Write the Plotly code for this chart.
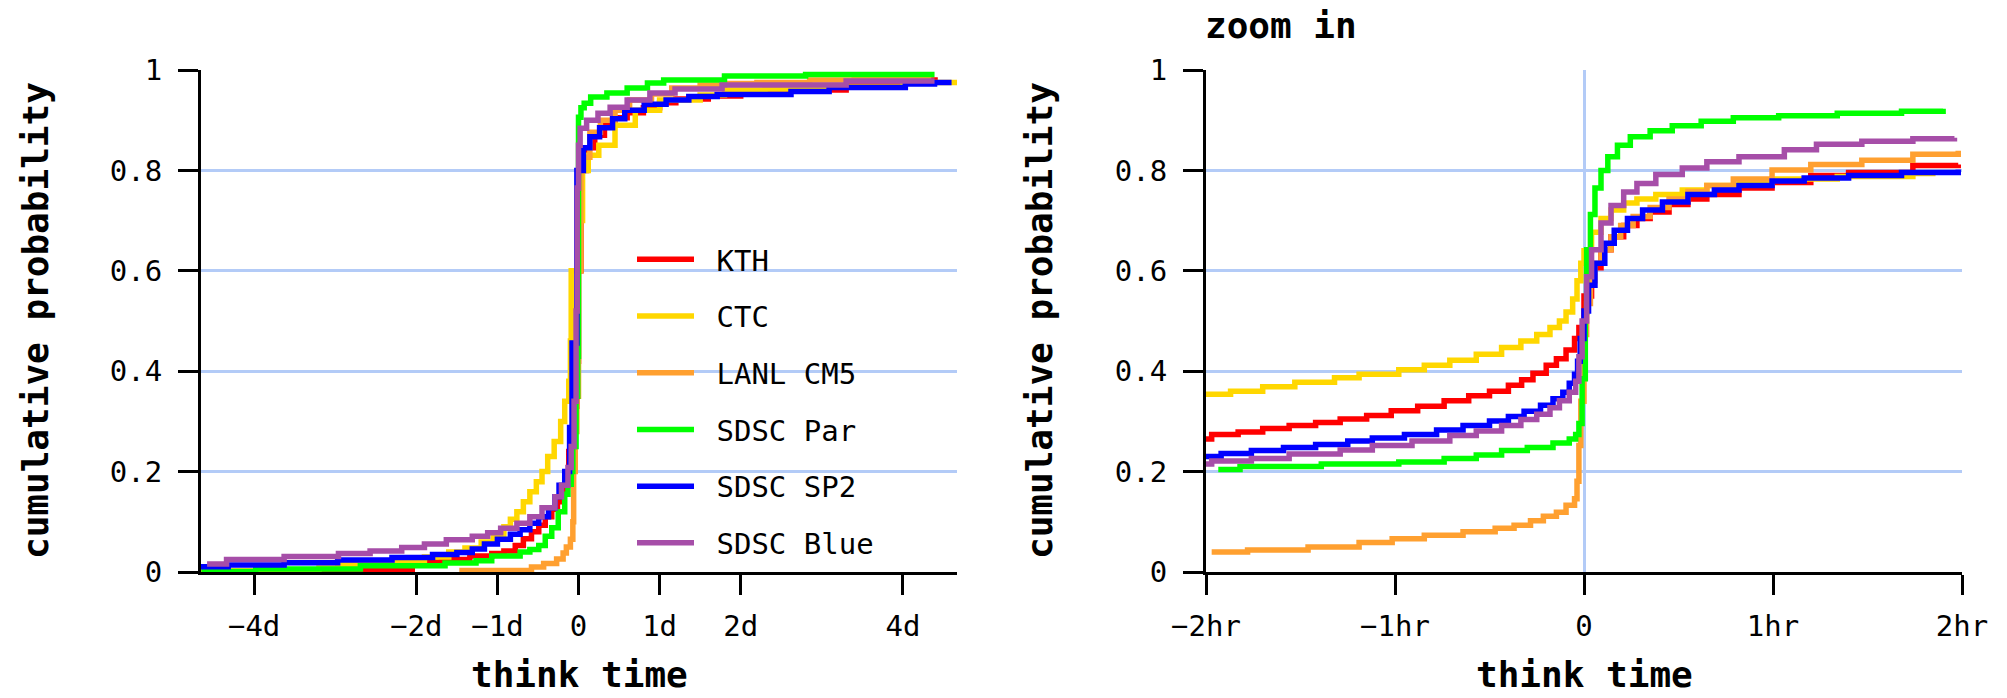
import plotly.graph_objects as go

W, H = 2007, 698

names = ["KTH", "CTC", "LANL CM5", "SDSC Par", "SDSC SP2", "SDSC Blue"]
colors = ["#FF0000", "#FFD700", "#FFA030", "#00FF00", "#0000FF", "#A64EA8"]

# ---- left panel: think time in days ----
kth_d_x = [-4.65, -2.65, -2.05, -1.69, -1.34, -1.07, -0.92, -0.78, -0.68, -0.58, -0.49, -0.41, -0.33, -0.26, -0.2, -0.16, -0.12, -0.09, -0.05, -0.02, 0.0, 0.03, 0.1, 0.2, 0.32, 0.45, 0.6, 0.8, 1.0, 1.2, 1.6, 2.0, 2.6, 3.3, 4.0, 4.43]
kth_d_p = [0.001, 0.003, 0.02, 0.025, 0.032, 0.037, 0.042, 0.053, 0.066, 0.08, 0.093, 0.11, 0.125, 0.14, 0.16, 0.19, 0.24, 0.28, 0.33, 0.42, 0.6, 0.8, 0.845, 0.87, 0.89, 0.905, 0.915, 0.925, 0.935, 0.942, 0.948, 0.952, 0.96, 0.968, 0.98, 0.98]

ctc_d_x = [-4.65, -3.2, -2.97, -2.26, -1.9, -1.6, -1.4, -1.2, -1.05, -0.92, -0.84, -0.76, -0.68, -0.6, -0.52, -0.45, -0.38, -0.3, -0.22, -0.17, -0.12, -0.1, -0.09, 0.0, 0.05, 0.12, 0.25, 0.45, 0.7, 1.0, 1.5, 1.8, 2.3, 3.0, 4.0, 4.7]
ctc_d_p = [0.002, 0.008, 0.015, 0.021, 0.03, 0.04, 0.048, 0.06, 0.072, 0.09, 0.105, 0.12, 0.14, 0.16, 0.18, 0.2, 0.23, 0.26, 0.3, 0.34, 0.38, 0.46, 0.6, 0.7, 0.8, 0.83, 0.85, 0.89, 0.92, 0.94, 0.95, 0.96, 0.962, 0.966, 0.975, 0.975]

lanl_d_x = [-1.47, -0.58, -0.43, -0.27, -0.19, -0.15, -0.1, -0.07, -0.06, -0.04, -0.02, 0.0, 0.03, 0.06, 0.14, 0.27, 0.45, 0.63, 0.9, 1.15, 1.5, 1.8, 2.2, 2.85, 3.4, 4.35]
lanl_d_p = [0.003, 0.01, 0.017, 0.026, 0.038, 0.05, 0.065, 0.1, 0.2, 0.28, 0.35, 0.6, 0.8, 0.826, 0.876, 0.9, 0.92, 0.94, 0.952, 0.964, 0.97, 0.973, 0.975, 0.98, 0.982, 0.982]

par_d_x = [-4.65, -3.98, -2.69, -1.646, -1.264, -1.07, -0.72, -0.6, -0.49, -0.41, -0.33, -0.25, -0.17, -0.13, -0.09, -0.07, -0.03, -0.01, 0.0, 0.03, 0.07, 0.15, 0.35, 0.6, 0.85, 1.05, 1.8, 2.8, 4.39]
par_d_p = [0.001, 0.006, 0.0126, 0.018, 0.0225, 0.032, 0.04, 0.045, 0.053, 0.071, 0.088, 0.12, 0.155, 0.175, 0.2, 0.25, 0.35, 0.43, 0.906, 0.925, 0.934, 0.946, 0.954, 0.964, 0.974, 0.98, 0.988, 0.991, 0.991]

sp2_d_x = [-4.7, -4.32, -3.63, -2.97, -2.3, -1.8, -1.5, -1.31, -1.16, -1.0, -0.84, -0.72, -0.6, -0.49, -0.37, -0.29, -0.24, -0.17, -0.11, -0.08, -0.02, 0.06, 0.14, 0.26, 0.42, 0.57, 0.81, 1.08, 1.36, 1.71, 2.62, 3.09, 4.03, 4.39, 4.6]
sp2_d_p = [0.0106, 0.014, 0.0186, 0.024, 0.029, 0.035, 0.039, 0.046, 0.056, 0.065, 0.075, 0.084, 0.097, 0.11, 0.128, 0.15, 0.173, 0.2, 0.288, 0.456, 0.8, 0.845, 0.867, 0.885, 0.903, 0.92, 0.932, 0.94, 0.947, 0.951, 0.957, 0.965, 0.972, 0.975, 0.975]

blue_d_x = [-4.58, -4.34, -3.63, -2.96, -2.57, -2.18, -1.9, -1.63, -1.31, -1.12, -0.96, -0.76, -0.6, -0.45, -0.29, -0.21, -0.13, -0.09, -0.055, -0.03, -0.016, 0.0, 0.02, 0.1, 0.24, 0.39, 0.6, 0.88, 1.19, 1.77, 3.3, 4.39]
blue_d_p = [0.016, 0.025, 0.031, 0.037, 0.042, 0.049, 0.056, 0.064, 0.071, 0.078, 0.087, 0.097, 0.11, 0.128, 0.15, 0.173, 0.208, 0.25, 0.34, 0.52, 0.765, 0.85, 0.884, 0.9, 0.914, 0.926, 0.94, 0.954, 0.962, 0.97, 0.978, 0.978]

# ---- right panel (zoom in): think time in hours ----
kth_h_x = [-2.01, -1.97, -1.83, -1.70, -1.56, -1.42, -1.29, -1.15, -1.02, -0.88, -0.74, -0.61, -0.50, -0.40, -0.33, -0.27, -0.2, -0.146, -0.095, -0.05, -0.027, 0.0, 0.04, 0.09, 0.143, 0.21, 0.28, 0.35, 0.45, 0.55, 0.65, 0.82, 0.995, 1.2, 1.4, 1.74, 1.98]
kth_h_p = [0.265, 0.274, 0.279, 0.286, 0.292, 0.298, 0.305, 0.312, 0.321, 0.33, 0.341, 0.351, 0.36, 0.372, 0.383, 0.396, 0.412, 0.425, 0.442, 0.465, 0.487, 0.55, 0.606, 0.642, 0.668, 0.69, 0.704, 0.717, 0.732, 0.743, 0.752, 0.765, 0.776, 0.79, 0.796, 0.81, 0.812]

ctc_h_x = [-2.0, -1.87, -1.70, -1.53, -1.32, -1.19, -0.98, -0.845, -0.71, -0.57, -0.436, -0.334, -0.25, -0.18, -0.13, -0.095, -0.06, -0.037, -0.017, 0.0, 0.04, 0.09, 0.143, 0.21, 0.28, 0.38, 0.52, 0.65, 0.82, 0.995, 1.34, 1.74, 1.86]
ctc_h_p = [0.354, 0.36, 0.369, 0.378, 0.387, 0.394, 0.403, 0.412, 0.422, 0.434, 0.447, 0.46, 0.473, 0.487, 0.5, 0.518, 0.544, 0.58, 0.615, 0.64, 0.677, 0.704, 0.721, 0.735, 0.743, 0.752, 0.761, 0.77, 0.776, 0.783, 0.788, 0.794, 0.794]

lanl_h_x = [-1.97, -1.78, -1.46, -1.19, -1.015, -0.845, -0.64, -0.47, -0.37, -0.283, -0.215, -0.146, -0.095, -0.05, -0.037, -0.027, -0.017, 0.0, 0.014, 0.034, 0.058, 0.09, 0.143, 0.194, 0.26, 0.35, 0.45, 0.55, 0.65, 0.79, 0.995, 1.2, 1.47, 1.74, 1.98]
lanl_h_p = [0.04, 0.044, 0.05, 0.059, 0.066, 0.073, 0.08, 0.087, 0.093, 0.102, 0.111, 0.119, 0.133, 0.146, 0.181, 0.252, 0.34, 0.473, 0.535, 0.58, 0.615, 0.642, 0.668, 0.69, 0.708, 0.726, 0.743, 0.758, 0.77, 0.783, 0.801, 0.812, 0.82, 0.832, 0.839]

par_h_x = [-1.935, -1.82, -1.39, -0.98, -0.74, -0.57, -0.436, -0.3, -0.164, -0.078, -0.044, -0.027, -0.01, 0.007, 0.014, 0.034, 0.058, 0.09, 0.126, 0.177, 0.245, 0.35, 0.467, 0.62, 0.79, 1.03, 1.34, 1.68, 1.9]
par_h_p = [0.204, 0.21, 0.215, 0.219, 0.226, 0.233, 0.242, 0.248, 0.257, 0.265, 0.274, 0.296, 0.385, 0.518, 0.642, 0.712, 0.765, 0.8, 0.827, 0.85, 0.867, 0.879, 0.889, 0.898, 0.905, 0.909, 0.914, 0.918, 0.923]

sp2_h_x = [-2.0, -1.92, -1.76, -1.59, -1.42, -1.25, -1.12, -0.95, -0.78, -0.64, -0.50, -0.40, -0.317, -0.23, -0.164, -0.112, -0.078, -0.05, -0.034, -0.02, 0.0, 0.024, 0.058, 0.11, 0.16, 0.23, 0.31, 0.415, 0.55, 0.69, 0.82, 0.995, 1.165, 1.4, 1.68, 1.98]
sp2_h_p = [0.23, 0.236, 0.242, 0.248, 0.254, 0.261, 0.267, 0.274, 0.283, 0.292, 0.301, 0.31, 0.32, 0.332, 0.345, 0.358, 0.376, 0.394, 0.42, 0.465, 0.52, 0.571, 0.615, 0.655, 0.681, 0.704, 0.721, 0.737, 0.752, 0.761, 0.77, 0.779, 0.785, 0.79, 0.796, 0.802]

blue_h_x = [-2.01, -1.97, -1.76, -1.56, -1.29, -1.12, -0.91, -0.71, -0.57, -0.436, -0.334, -0.25, -0.18, -0.13, -0.078, -0.044, -0.027, -0.01, 0.014, 0.04, 0.09, 0.143, 0.21, 0.28, 0.38, 0.52, 0.65, 0.82, 1.06, 1.23, 1.47, 1.74, 1.96]
blue_h_p = [0.215, 0.221, 0.226, 0.235, 0.243, 0.252, 0.261, 0.272, 0.281, 0.292, 0.304, 0.314, 0.327, 0.341, 0.358, 0.38, 0.429, 0.5, 0.588, 0.642, 0.695, 0.73, 0.757, 0.774, 0.792, 0.805, 0.817, 0.827, 0.841, 0.852, 0.858, 0.863, 0.865]

left_x = [kth_d_x, ctc_d_x, lanl_d_x, par_d_x, sp2_d_x, blue_d_x]
left_p = [kth_d_p, ctc_d_p, lanl_d_p, par_d_p, sp2_d_p, blue_d_p]
right_x = [kth_h_x, ctc_h_x, lanl_h_x, par_h_x, sp2_h_x, blue_h_x]
right_p = [kth_h_p, ctc_h_p, lanl_h_p, par_h_p, sp2_h_p, blue_h_p]

day_ticks = [-4, -2, -1, 0, 1, 2, 4]
day_labels = ["\u22124d", "\u22122d", "\u22121d", "0", "1d", "2d", "4d"]
hr_ticks = [-2, -1, 0, 1, 2]
hr_labels = ["\u22122hr", "\u22121hr", "0", "1hr", "2hr"]
p_ticks = [0, 0.2, 0.4, 0.6, 0.8, 1]
p_labels = ["0", "0.2", "0.4", "0.6", "0.8", "1"]

MONO = "DejaVu Sans Mono"
GRID = "#B3CBF7"
LW = 5.5

fig = go.Figure()
for i, name in enumerate(names):
    fig.add_trace(go.Scatter(
        x=left_x[i], y=left_p[i], mode="lines", name="\u00a0" + name, legendgroup=name,
        line=dict(color=colors[i], width=LW, shape="hv"), xaxis="x", yaxis="y"))
for i, name in enumerate(names):
    fig.add_trace(go.Scatter(
        x=right_x[i], y=right_p[i], mode="lines", name=name, legendgroup=name,
        showlegend=False,
        line=dict(color=colors[i], width=LW, shape="hv"), xaxis="x2", yaxis="y2"))

def xd(px):
    return px / W

def yd(px):
    return 1 - px / H

common_x = dict(ticks="outside", ticklen=20, tickwidth=3, tickcolor="black",
                showline=True, linecolor="black", linewidth=3, showgrid=False,
                zerolinecolor=GRID, zerolinewidth=3, automargin=False,
                tickfont=dict(family=MONO, size=29, color="black"),
                ticklabelstandoff=6, layer="below traces", fixedrange=True)
common_y = dict(ticks="outside", ticklen=20, tickwidth=3, tickcolor="black",
                showline=True, linecolor="black", linewidth=3, showgrid=True,
                gridcolor=GRID, gridwidth=3, zeroline=False, automargin=False,
                range=[0, 1], tickvals=p_ticks, ticktext=p_labels,
                tickfont=dict(family=MONO, size=29, color="black"),
                ticklabelstandoff=10, layer="below traces", fixedrange=True)

fig.update_layout(
    width=W, height=H, autosize=False,
    margin=dict(l=0, r=0, t=0, b=0, autoexpand=False),
    paper_bgcolor="white", plot_bgcolor="white",
    xaxis=dict(domain=[xd(201), xd(957)], range=[-4.655, 4.667], zeroline=False,
               tickvals=day_ticks, ticktext=day_labels, anchor="y", **common_x),
    yaxis=dict(domain=[yd(572), yd(70)], anchor="x", **common_y),
    xaxis2=dict(domain=[xd(1206), xd(1962)], range=[-2, 2], zeroline=True,
                tickvals=hr_ticks, ticktext=hr_labels, anchor="y2", **common_x),
    yaxis2=dict(domain=[yd(572), yd(70)], anchor="x2", **common_y),
    legend=dict(x=xd(632), y=yd(234), xanchor="left", yanchor="top",
                bgcolor="rgba(0,0,0,0)", borderwidth=0,
                font=dict(family=MONO, size=29, color="black"),
                tracegroupgap=16, itemwidth=57),
    showlegend=True,
)

title_font = dict(family=MONO, size=36, color="black", weight="bold")
ann = [
    dict(text="think time", x=xd(579), y=yd(674), xref="paper", yref="paper",
         xanchor="center", yanchor="middle", showarrow=False, font=title_font),
    dict(text="think time", x=xd(1584), y=yd(674), xref="paper", yref="paper",
         xanchor="center", yanchor="middle", showarrow=False, font=title_font),
    dict(text="cumulative probability", x=xd(35), y=yd(321), xref="paper", yref="paper",
         xanchor="center", yanchor="middle", textangle=-90, showarrow=False, font=title_font),
    dict(text="cumulative probability", x=xd(1039), y=yd(321), xref="paper", yref="paper",
         xanchor="center", yanchor="middle", textangle=-90, showarrow=False, font=title_font),
    dict(text="zoom in", x=xd(1203), y=yd(25), xref="paper", yref="paper",
         xanchor="left", yanchor="middle", showarrow=False, font=title_font),
]
fig.update_layout(annotations=ann)

fig.write_html("out.html", config={"displayModeBar": False},
               post_script="document.body.style.margin='0';")
